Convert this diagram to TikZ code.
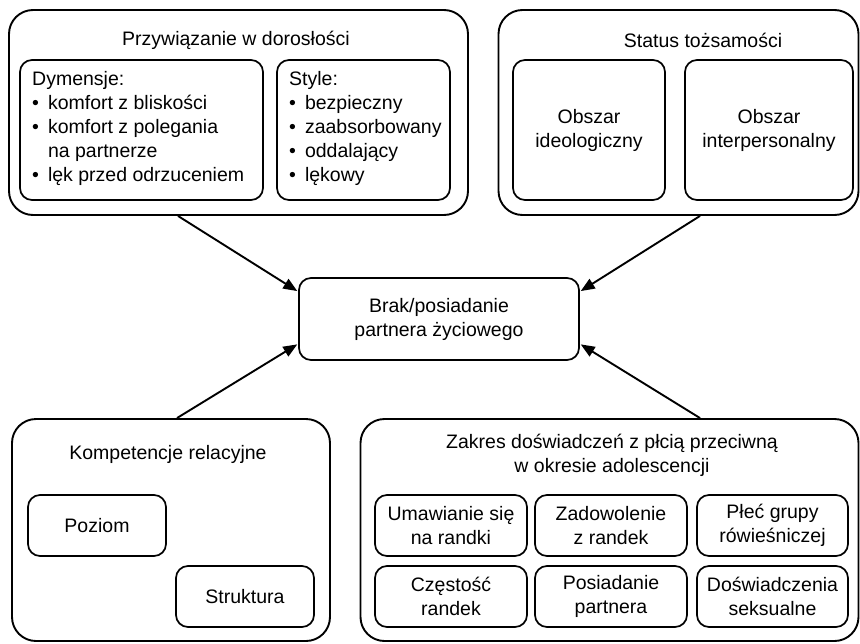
\documentclass[tikz,border=0pt]{standalone}
\usepackage{fontspec}
\setmainfont{Liberation Sans}
\usetikzlibrary{arrows.meta}
\begin{document}
\begin{tikzpicture}[x=1pt,y=1pt,
  every node/.style={font=\fontsize{19.5}{24}\selectfont, inner sep=0pt},
  outerbox/.style={draw, line width=1.9pt, rounded corners=24pt},
  innerbox/.style={draw, line width=1.7pt, rounded corners=12pt, align=center},
  centerbox/.style={draw, line width=1.7pt, rounded corners=12pt, align=center},
  arr/.style={line width=1.9pt, -{Triangle[length=14pt,width=11pt]}, shorten >=1pt},
  lbl/.style={align=center}]
\useasboundingbox (0,0) rectangle (860,-643);
% outer boxes
\node[outerbox, minimum width=459, minimum height=205] (b1) at (238.5,-112.5) {};
\node[outerbox, minimum width=360, minimum height=205] (b2) at (678.5,-112.5) {};
\node[outerbox, minimum width=318, minimum height=222] (b3) at (171,-530) {};
\node[outerbox, minimum width=498, minimum height=222] (b4) at (609.5,-530) {};
% titles
\node[lbl] (t1) at (236,-40) {Przywiązanie w dorosłości};
\node[lbl] (t2) at (703,-40) {Status tożsamości};
\node[lbl] (t3) at (168,-454) {Kompetencje relacyjne};
\node[lbl] (t4) at (612,-455.5) {Zakres doświadczeń z płcią przeciwną\\w okresie adolescencji};
% box 1 inner
\node[innerbox, minimum width=243, minimum height=140] (dim) at (141.5,-130) {};
\node[anchor=west, align=left] (dimtxt) at (32,-129) {\begin{tabular}{@{}l@{\hspace{9pt}}l@{}}
\multicolumn{2}{@{}l@{}}{Dymensje:}\\
•& komfort z bliskości\\
•& komfort z polegania\\
 & na partnerze\\
•& lęk przed odrzuceniem
\end{tabular}};
\node[innerbox, minimum width=173, minimum height=140] (sty) at (363.5,-130) {};
\node[anchor=west, align=left] (stytxt) at (289,-129) {\begin{tabular}{@{}l@{\hspace{9pt}}l@{}}
\multicolumn{2}{@{}l@{}}{Style:}\\
•& bezpieczny\\
•& zaabsorbowany\\
•& oddalający\\
•& lękowy
\end{tabular}};
% box 2 inner
\node[innerbox, minimum width=152, minimum height=140] (ideo) at (589,-130) {Obszar\\ideologiczny};
\node[innerbox, minimum width=168, minimum height=140] (inter) at (769,-130) {Obszar\\interpersonalny};
% center
\node[centerbox, minimum width=280, minimum height=82] (c) at (439,-319) {Brak/posiadanie\\partnera życiowego};
% box 3 inner
\node[innerbox, minimum width=138, minimum height=61] (poz) at (97,-525.5) {Poziom};
\node[innerbox, minimum width=138, minimum height=61] (str) at (245,-596.5) {Struktura};
% box 4 inner
\node[innerbox, minimum width=152, minimum height=61] (um) at (451,-525.5) {Umawianie się\\na randki};
\node[innerbox, minimum width=152, minimum height=61] (zad) at (611,-525.5) {Zadowolenie\\z randek};
\node[innerbox, minimum width=151, minimum height=61] (plec) at (772.5,-525.5) {Płeć grupy\\rówieśniczej};
\node[innerbox, minimum width=152, minimum height=61] (czest) at (451,-596.5) {Częstość\\randek};
\node[innerbox, minimum width=152, minimum height=61] (pos) at (611,-596.5) {Posiadanie\\partnera};
\node[innerbox, minimum width=151, minimum height=61] (dos) at (772.5,-596.5) {Doświadczenia\\seksualne};
% arrows
\draw[arr] ([xshift=-60.5pt]b1.south) -- (c.169);
\draw[arr] ([xshift=21.5pt]b2.south) -- (c.11);
\draw[arr] ([xshift=6pt]b3.north) -- (c.190);
\draw[arr] ([xshift=90.5pt]b4.north) -- (c.350);
\end{tikzpicture}
\end{document}
